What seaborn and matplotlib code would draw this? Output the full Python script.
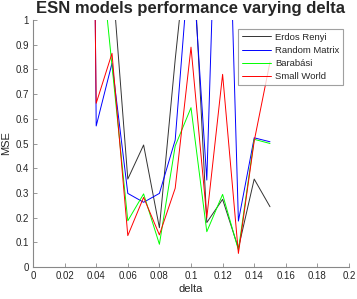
import seaborn as sns
import matplotlib.pyplot as plt
import pandas as pd
import numpy as np

# delta values (0.03 points are far above the visible range)
delta = [0.03, 0.04, 0.05, 0.06, 0.07, 0.08, 0.09, 0.10, 0.11, 0.12, 0.13, 0.14, 0.15]

erdos_renyi = [6.0, 1.5, 1.19, 0.356, 0.494, 0.159, 0.84, 1.45, 0.18, 0.274, 0.076, 0.356, 0.244]
random_matrix = [8.0, 0.571, 0.825, 0.298, 0.262, 0.298, 0.514, 1.33, 0.352, 2.4, 0.186, 0.523, 0.507]
barabasi = [6.0, 1.45, 0.815, 0.187, 0.296, 0.092, 0.49, 0.645, 0.143, 0.294, 0.069, 0.517, 0.50]
small_world = [6.0, 0.663, 0.865, 0.127, 0.282, 0.13, 0.319, 0.89, 0.20, 0.78, 0.055, 0.51, 0.83]

names = ["Erdos Renyi", "Random Matrix", "Barabási", "Small World"]
colors = ["#333333", "#0000ff", "#00ff00", "#ff0000"]

df = pd.concat([
    pd.DataFrame({"delta": delta, "MSE": vals, "model": name})
    for name, vals in zip(names, [erdos_renyi, random_matrix, barabasi, small_world])
])

sns.set_style("white")
plt.rcParams["font.family"] = ["Liberation Sans", "DejaVu Sans"]

fig = plt.figure(figsize=(3.57, 2.99), dpi=100)
ax = fig.add_axes([33 / 357, 1 - 267 / 299, 316 / 357, 247 / 299])

sns.lineplot(data=df, x="delta", y="MSE", hue="model", hue_order=names,
             palette=colors, linewidth=0.7, ax=ax, sort=False, estimator=None)

ax.set_xlim(0, 0.2)
ax.set_ylim(0, 1)
ax.set_xticks(np.arange(0, 0.201, 0.02))
ax.set_xticklabels(["0", "0.02", "0.04", "0.06", "0.08", "0.1", "0.12", "0.14", "0.16", "0.18", "0.2"])
ax.set_yticks(np.arange(0, 1.01, 0.1))
ax.set_yticklabels(["0", "0.1", "0.2", "0.3", "0.4", "0.5", "0.6", "0.7", "0.8", "0.9", "1"])
ax.tick_params(direction="in", length=3, width=0.6, color="#888888", labelsize=7, pad=3,
               bottom=True, left=True)

for side in ["top", "right"]:
    ax.spines[side].set_visible(False)
for side in ["left", "bottom"]:
    ax.spines[side].set_color("#888888")
    ax.spines[side].set_linewidth(0.8)

ax.set_xlabel("delta", fontsize=8, labelpad=2)
ax.set_ylabel("MSE", fontsize=8, labelpad=3)
ax.set_title("ESN models performance varying delta", fontsize=12, fontweight="bold", pad=5)

leg = ax.legend(loc="upper right", bbox_to_anchor=(0.981, 0.964), borderaxespad=0,
                fontsize=6.8, frameon=True, fancybox=False, handlelength=3.1,
                labelspacing=0.45, borderpad=0.4, handletextpad=0.4)
leg.get_frame().set_edgecolor("#888888")
leg.get_frame().set_linewidth(0.8)

fig.savefig("out.png", dpi=100)
plt.close(fig)
